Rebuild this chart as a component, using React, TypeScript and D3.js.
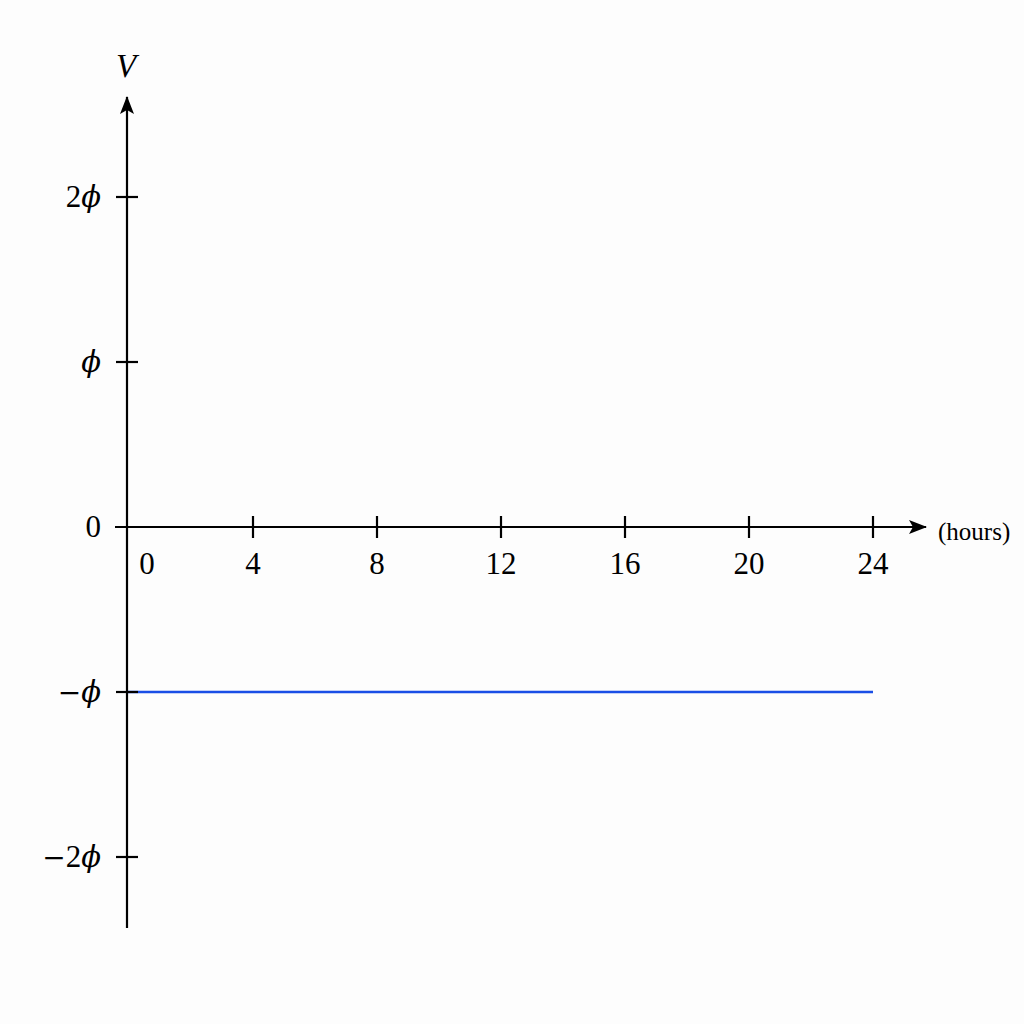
import { useEffect, useRef } from 'react';
import * as d3 from 'd3';

// data
const hourTicks = [0, 4, 8, 12, 16, 20, 24];
const voltTicks = [2, 1, 0, -1, -2];
const voltLabels = ['2ϕ', 'ϕ', '0', '−ϕ', '−2ϕ'];
const seriesHours = [0, 24];
const seriesVolts = [-1, -1];

const FONT = '"Liberation Serif", "DejaVu Serif", serif';

export default function App() {
  const ref = useRef<SVGSVGElement | null>(null);

  useEffect(() => {
    if (!ref.current) return;
    const svg = d3.select(ref.current);
    svg.selectAll('*').remove();

    const x = d3.scaleLinear().domain([0, 24]).range([129, 873]);
    const y = d3.scaleLinear().domain([-2, 2]).range([857, 197]);
    const ox = 127;
    const oy = y(0);

    const defs = svg.append('defs');
    defs
      .append('marker')
      .attr('id', 'arrow')
      .attr('viewBox', '0 0 18 14')
      .attr('refX', 17)
      .attr('refY', 7)
      .attr('markerWidth', 18)
      .attr('markerHeight', 14)
      .attr('markerUnits', 'userSpaceOnUse')
      .attr('orient', 'auto')
      .append('path')
      .attr('d', 'M0,0 L18,7 L0,14 L4,7 Z')
      .attr('fill', '#000');

    svg.append('rect').attr('width', 1024).attr('height', 1024).attr('fill', '#fdfdfd');

    // series
    const line = d3
      .line<number>()
      .x((_, i) => (seriesHours[i] === 0 ? ox : x(seriesHours[i])))
      .y(d => y(d));
    svg
      .append('path')
      .datum(seriesVolts)
      .attr('fill', 'none')
      .attr('stroke', '#1a4ee6')
      .attr('stroke-width', 2.5)
      .attr('d', line);

    // axes
    const ax = svg.append('g').attr('stroke', '#000').attr('stroke-width', 2.2);
    ax.append('line')
      .attr('x1', 115)
      .attr('y1', oy)
      .attr('x2', 926)
      .attr('y2', oy)
      .attr('marker-end', 'url(#arrow)');
    ax.append('line')
      .attr('x1', ox)
      .attr('y1', 928)
      .attr('x2', ox)
      .attr('y2', 97)
      .attr('marker-end', 'url(#arrow)');

    // x ticks
    ax.selectAll('line.xt')
      .data(hourTicks.filter(d => d > 0))
      .join('line')
      .attr('class', 'xt')
      .attr('x1', d => x(d))
      .attr('x2', d => x(d))
      .attr('y1', oy - 11)
      .attr('y2', oy + 11);

    // y ticks
    ax.selectAll('line.yt')
      .data(voltTicks.filter(d => d !== 0))
      .join('line')
      .attr('class', 'yt')
      .attr('x1', ox - 11)
      .attr('x2', ox + 11)
      .attr('y1', d => y(d))
      .attr('y2', d => y(d));

    svg
      .append('g')
      .attr('font-family', FONT)
      .attr('font-size', 31)
      .attr('text-anchor', 'middle')
      .selectAll('text')
      .data(hourTicks)
      .join('text')
      .attr('x', d => (d === 0 ? ox + 20 : x(d)))
      .attr('y', oy + 47)
      .text(d => d);

    const yl = svg
      .append('g')
      .attr('font-family', FONT)
      .attr('font-size', 31)
      .attr('text-anchor', 'end')
      .selectAll('text')
      .data(voltTicks)
      .join('text')
      .attr('x', 101)
      .attr('y', d => y(d) + 10);
    yl.each(function (d, i) {
      const t = d3.select(this);
      const label = voltLabels[i];
      for (const ch of label) {
        const span = t.append('tspan').text(ch);
        if (ch === 'ϕ') {
          span.attr('font-style', 'italic').attr('font-family', '"DejaVu Serif", serif').attr('font-size', 29);
        } else if (ch === '−') {
          span.attr('font-family', '"DejaVu Serif", serif').attr('font-size', 28);
        }
      }
    });

    svg
      .append('text')
      .attr('x', 938)
      .attr('y', 540)
      .attr('font-family', FONT)
      .attr('font-size', 25)
      .text('(hours)');

    svg
      .append('text')
      .attr('x', 126)
      .attr('y', 77)
      .attr('text-anchor', 'middle')
      .attr('font-family', FONT)
      .attr('font-style', 'italic')
      .attr('font-size', 33)
      .text('V');
  }, []);

  return (
    <svg
      ref={ref}
      width={1024}
      height={1024}
      style={{ position: 'absolute', left: 0, top: 0 }}
    />
  );
}
